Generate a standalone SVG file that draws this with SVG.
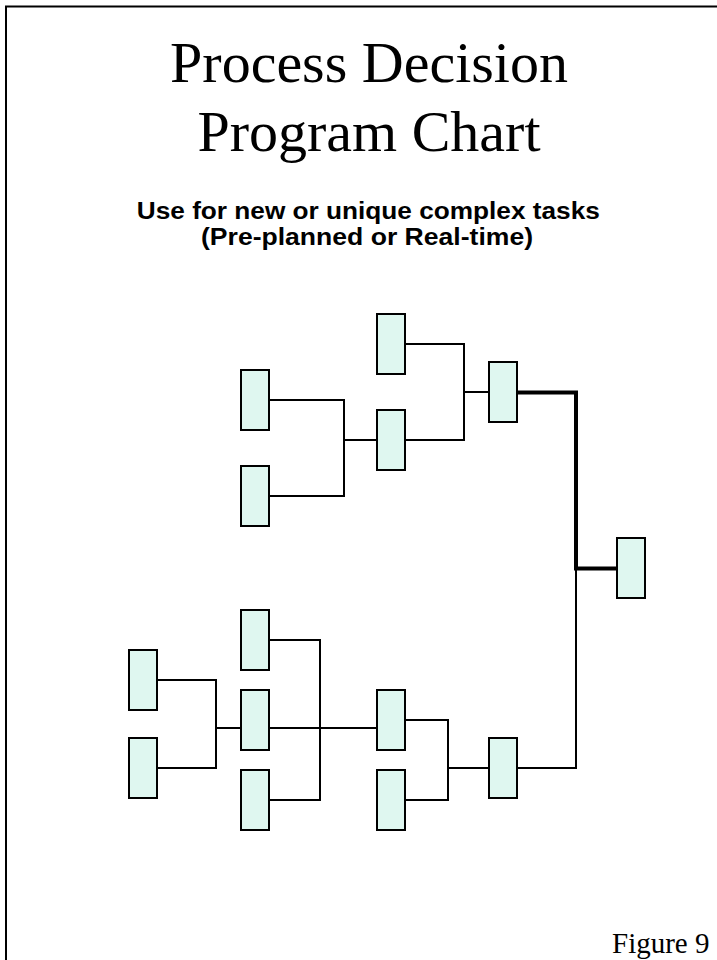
<svg xmlns="http://www.w3.org/2000/svg" width="717" height="960" viewBox="0 0 717 960">
  <style>
    .box { fill: #DFF7F0; stroke: #000; stroke-width: 2; }
    .link { fill: none; stroke: #000; stroke-width: 2; }
    .link.main { stroke-width: 4; stroke-linejoin: miter; }
    .frame { fill: none; stroke: #000; stroke-width: 2; }
    .title { font-family: "Liberation Serif", "Times New Roman", serif; font-size: 58px; fill: #000; }
    .sub { font-family: "Liberation Sans", Arial, sans-serif; font-size: 23.5px; font-weight: bold; fill: #000; }
    .fig { font-family: "Liberation Serif", "Times New Roman", serif; font-size: 29px; fill: #000; }
  </style>
  <rect x="0" y="0" width="717" height="960" fill="#fff"/>

  <!-- page frame (open on the right and bottom) -->
  <path class="frame" d="M717 6.5 H6 V960"/>

  <!-- heading -->
  <text class="title" x="369" y="81.5" text-anchor="middle">Process Decision</text>
  <text class="title" x="369" y="150.5" text-anchor="middle">Program Chart</text>
  <text class="sub" x="368.3" y="219.3" text-anchor="middle" textLength="463" lengthAdjust="spacingAndGlyphs">Use for new or unique complex tasks</text>
  <text class="sub" x="367" y="245" text-anchor="middle" textLength="332" lengthAdjust="spacingAndGlyphs">(Pre-planned or Real-time)</text>

  <!-- connectors -->
  <g id="connectors">
    <path class="link" d="M270 400 H344 V496 H270 M344 440 H376"/>
    <path class="link" d="M406 344 H464 V440 H406 M464 392 H488"/>
    <path class="link main" d="M518 392.5 H576 V568.5 H616"/>
    <path class="link" d="M576 568 V768 H518"/>
    <path class="link" d="M406 720 H448 V800 H406 M448 768 H488"/>
    <path class="link" d="M158 680 H216 V768 H158 M216 728 H240"/>
    <path class="link" d="M270 728 H376"/>
    <path class="link" d="M270 640 H320 V800 H270"/>
  </g>

  <!-- upper branch -->
  <g id="node-a"><rect class="box" x="377" y="314" width="28" height="60"/></g>
  <g id="node-b"><rect class="box" x="241" y="370" width="28" height="60"/></g>
  <g id="node-c"><rect class="box" x="241" y="466" width="28" height="60"/></g>
  <g id="node-d"><rect class="box" x="377" y="410" width="28" height="60"/></g>
  <g id="node-e"><rect class="box" x="489" y="362" width="28" height="60"/></g>

  <!-- goal -->
  <g id="node-f"><rect class="box" x="617" y="538" width="28" height="60"/></g>

  <!-- lower branch -->
  <g id="node-g"><rect class="box" x="489" y="738" width="28" height="60"/></g>
  <g id="node-h"><rect class="box" x="377" y="690" width="28" height="60"/></g>
  <g id="node-i"><rect class="box" x="377" y="770" width="28" height="60"/></g>
  <g id="node-j"><rect class="box" x="129" y="650" width="28" height="60"/></g>
  <g id="node-k"><rect class="box" x="129" y="738" width="28" height="60"/></g>
  <g id="node-l"><rect class="box" x="241" y="610" width="28" height="60"/></g>
  <g id="node-m"><rect class="box" x="241" y="690" width="28" height="60"/></g>
  <g id="node-n"><rect class="box" x="241" y="770" width="28" height="60"/></g>

  <text class="fig" x="612" y="953">Figure 9</text>
</svg>
